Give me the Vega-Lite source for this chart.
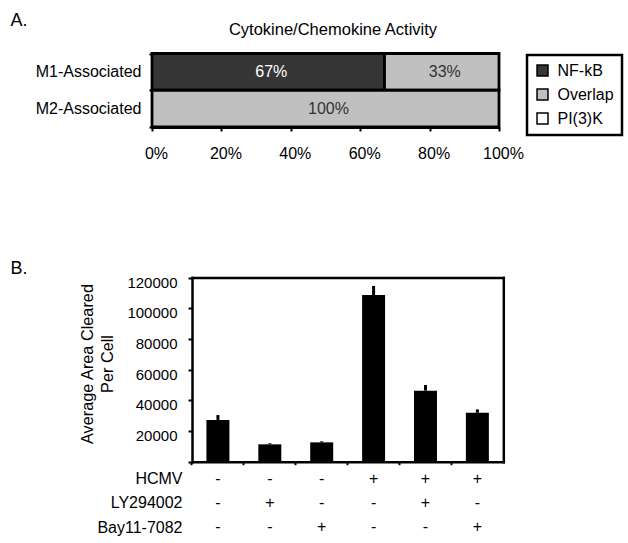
{
  "$schema": "https://vega.github.io/schema/vega-lite/v6.json",
  "width": 628,
  "height": 543,
  "autosize": "none",
  "padding": 0,
  "background": "white",
  "config": {
    "view": {"stroke": null},
    "font": "Liberation Sans",
    "axis": {"grid": false, "domainColor": "black", "tickColor": "black", "labelColor": "black", "titleColor": "black", "titleFontWeight": "normal", "labelFlush": false}
  },
  "datasets": {
    "panelA": [
      {"group": "M1-Associated", "pathway": "NF-kB", "share": 0.67},
      {"group": "M1-Associated", "pathway": "Overlap", "share": 0.33},
      {"group": "M2-Associated", "pathway": "Overlap", "share": 1.0}
    ],
    "panelB": [
      {"condition": "Mock", "area": 27200, "upper": 30400},
      {"condition": "LY294002", "area": 11300, "upper": 12000},
      {"condition": "Bay11-7082", "area": 12600, "upper": 13300},
      {"condition": "HCMV", "area": 108600, "upper": 114500},
      {"condition": "HCMV+LY294002", "area": 46300, "upper": 50000},
      {"condition": "HCMV+Bay11-7082", "area": 31900, "upper": 34100}
    ],
    "treatments": [
      {"condition": "Mock", "agent": "HCMV", "sign": "-"},
      {"condition": "Mock", "agent": "LY294002", "sign": "-"},
      {"condition": "Mock", "agent": "Bay11-7082", "sign": "-"},
      {"condition": "LY294002", "agent": "HCMV", "sign": "-"},
      {"condition": "LY294002", "agent": "LY294002", "sign": "+"},
      {"condition": "LY294002", "agent": "Bay11-7082", "sign": "-"},
      {"condition": "Bay11-7082", "agent": "HCMV", "sign": "-"},
      {"condition": "Bay11-7082", "agent": "LY294002", "sign": "-"},
      {"condition": "Bay11-7082", "agent": "Bay11-7082", "sign": "+"},
      {"condition": "HCMV", "agent": "HCMV", "sign": "+"},
      {"condition": "HCMV", "agent": "LY294002", "sign": "-"},
      {"condition": "HCMV", "agent": "Bay11-7082", "sign": "-"},
      {"condition": "HCMV+LY294002", "agent": "HCMV", "sign": "+"},
      {"condition": "HCMV+LY294002", "agent": "LY294002", "sign": "+"},
      {"condition": "HCMV+LY294002", "agent": "Bay11-7082", "sign": "-"},
      {"condition": "HCMV+Bay11-7082", "agent": "HCMV", "sign": "+"},
      {"condition": "HCMV+Bay11-7082", "agent": "LY294002", "sign": "-"},
      {"condition": "HCMV+Bay11-7082", "agent": "Bay11-7082", "sign": "+"}
    ]
  },
  "layer": [
    {
      "data": {"name": "panelA"},
      "mark": {"type": "bar", "stroke": "black", "strokeWidth": 2.8},
      "encoding": {
        "y": {"field": "group", "type": "nominal", "sort": null,
          "scale": {"domain": ["M1-Associated", "M2-Associated"], "range": [53.5, 127], "paddingInner": 0, "paddingOuter": 0},
          "axis": {"orient": "left", "offset": -152, "title": null, "domainWidth": 2.8, "tickBand": "extent", "tickSize": 3, "tickWidth": 2, "labelFontSize": 16, "labelPadding": 8}},
        "x": {"field": "share", "type": "quantitative",
          "scale": {"domain": [0, 1], "range": [152, 499], "nice": false},
          "axis": {"orient": "bottom", "offset": -416, "title": null, "values": [0, 0.2, 0.4, 0.6, 0.8, 1], "format": ".0%", "domainWidth": 2.8, "tickSize": 4, "tickWidth": 2, "labelFontSize": 16, "labelPadding": 14.5, "labelOffset": 4}},
        "color": {"field": "pathway", "type": "nominal",
          "scale": {"domain": ["NF-kB", "Overlap", "PI(3)K"], "range": ["#363636", "#c0c0c0", "#ffffff"]},
          "legend": {"orient": "none", "legendX": 527, "legendY": 55, "title": null, "symbolType": "square", "symbolSize": 120, "symbolStrokeColor": "black", "symbolStrokeWidth": 1.5, "labelFontSize": 16, "labelColor": "black", "rowPadding": 6, "padding": 7.5, "strokeColor": "black", "labelOffset": 7,
            "encode": {"legend": {"update": {"strokeWidth": {"value": 2.5}}}}}},
        "order": {"field": "pathway", "type": "ordinal", "sort": "ascending"}
      }
    },
    {
      "data": {"name": "panelA"},
      "transform": [
        {"stack": "share", "groupby": ["group"], "sort": [{"field": "pathway", "order": "ascending"}], "as": ["s0", "s1"]},
        {"fold": ["s0", "s1"], "as": ["edge", "pos"]},
        {"aggregate": [{"op": "mean", "field": "pos", "as": "mid"}], "groupby": ["group", "pathway", "share"]}
      ],
      "mark": {"type": "text", "fontSize": 16, "baseline": "middle", "align": "center", "dx": 3},
      "encoding": {
        "x": {"field": "mid", "type": "quantitative",
          "scale": {"domain": [0, 1], "range": [152, 499], "nice": false},
          "axis": {"orient": "top", "offset": -53.5, "domain": false, "ticks": false, "labels": false, "title": "Cytokine/Chemokine Activity", "titleFontSize": 16.5, "titleX": 332.5, "titleY": -19.5, "titleBaseline": "alphabetic", "titleAlign": "center"}},
        "y": {"field": "group", "type": "nominal", "sort": null,
          "scale": {"domain": ["M1-Associated", "M2-Associated"], "range": [53.5, 127], "paddingInner": 0, "paddingOuter": 0},
          "axis": {"orient": "left", "offset": 0, "domain": false, "ticks": false, "labels": false, "title": "A.", "titleAngle": 0, "titleFontSize": 18, "titleX": 10, "titleY": 25, "titleAlign": "left", "titleBaseline": "alphabetic"}},
        "text": {"field": "share", "type": "quantitative", "format": ".0%"},
        "color": {"condition": {"test": "datum.pathway === 'NF-kB'", "value": "white"}, "value": "#333333"}
      }
    },
    {
      "data": {"name": "panelB"},
      "mark": {"type": "bar", "color": "black"},
      "encoding": {
        "x": {"field": "condition", "type": "nominal", "sort": null,
          "scale": {"domain": ["Mock", "LY294002", "Bay11-7082", "HCMV", "HCMV+LY294002", "HCMV+Bay11-7082"], "range": [192, 503.3], "paddingInner": 0.557, "paddingOuter": 0.278},
          "axis": {"orient": "bottom", "offset": -81.3, "title": null, "labels": false, "domainWidth": 2.5, "domainCap": "square", "tickSize": 3, "tickWidth": 2, "bandPosition": -0.628}},
        "y": {"field": "area", "type": "quantitative",
          "scale": {"domain": [0, 120000], "range": [461.7, 277.5], "nice": false},
          "axis": {"orient": "left", "offset": -192, "values": [0, 20000, 40000, 60000, 80000, 100000, 120000], "labelExpr": "datum.value === 0 ? '' : format(datum.value, 'd')", "labelFontSize": 15, "tickSize": 4, "tickWidth": 2, "labelPadding": 11, "labelOffset": 4.5, "domainWidth": 2.5, "domainCap": "square",
            "title": ["Average Area Cleared", "Per Cell"], "titleFontSize": 16.3, "titleLineHeight": 20, "titleX": -100, "titleY": 363.5, "titleBaseline": "alphabetic", "titleAlign": "center", "titleAngle": -90}}
      }
    },
    {
      "data": {"name": "panelB"},
      "mark": {"type": "rule", "color": "black", "strokeWidth": 3},
      "encoding": {
        "x": {"field": "condition", "type": "nominal", "sort": null,
          "scale": {"domain": ["Mock", "LY294002", "Bay11-7082", "HCMV", "HCMV+LY294002", "HCMV+Bay11-7082"], "range": [192, 503.3], "paddingInner": 0.557, "paddingOuter": 0.278},
          "axis": {"orient": "top", "offset": -277.5, "title": null, "labels": false, "ticks": false, "domainWidth": 2.5, "domainCap": "square"}},
        "y": {"field": "area", "type": "quantitative",
          "scale": {"domain": [0, 120000], "range": [461.7, 277.5], "nice": false},
          "axis": {"orient": "right", "offset": -124.7, "title": null, "labels": false, "ticks": false, "domainWidth": 2.5, "domainCap": "square"}},
        "y2": {"field": "upper"}
      }
    },
    {
      "data": {"name": "treatments"},
      "mark": {"type": "text", "fontSize": 16, "baseline": "middle", "align": "center", "color": "black"},
      "encoding": {
        "x": {"field": "condition", "type": "nominal", "sort": null,
          "scale": {"domain": ["Mock", "LY294002", "Bay11-7082", "HCMV", "HCMV+LY294002", "HCMV+Bay11-7082"], "range": [192, 503.3], "paddingInner": 0.557, "paddingOuter": 0.278},
          "axis": {"orient": "top", "offset": 0, "domain": false, "ticks": false, "labels": false, "title": "B.", "titleFontSize": 18, "titleAngle": 0, "titleX": 10, "titleY": 273, "titleAlign": "left", "titleBaseline": "alphabetic"}},
        "y": {"field": "agent", "type": "nominal", "sort": null,
          "scale": {"type": "point", "domain": ["HCMV", "LY294002", "Bay11-7082"], "range": [478.7, 527], "padding": 0},
          "axis": {"orient": "left", "offset": -192, "domain": false, "ticks": false, "title": null, "labelFontSize": 16, "labelPadding": 10}},
        "text": {"field": "sign"}
      }
    }
  ],
  "resolve": {"scale": {"x": "independent", "y": "independent"}}
}
